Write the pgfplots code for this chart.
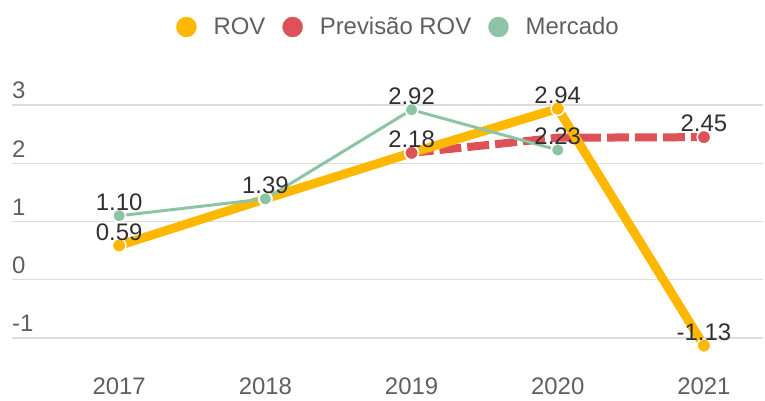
\documentclass[border=0pt]{standalone}
\usepackage{fontspec}
\setmainfont{Liberation Sans}
\usepackage{pgfplots}
\pgfplotsset{compat=1.18}
\definecolor{cROV}{HTML}{FFB800}
\definecolor{cPrev}{HTML}{DC5257}
\definecolor{cMerc}{HTML}{8DC4A6}
\definecolor{cGrid}{HTML}{DDDDDD}
\definecolor{cTick}{HTML}{5F5F5F}
\definecolor{cLab}{HTML}{303030}
\begin{document}
\begin{tikzpicture}
\useasboundingbox (0,0) rectangle (765bp,401bp);
\begin{axis}[
  at={(12bp,28bp)}, anchor=south west,
  scale only axis, width=751bp, height=297bp,
  xmin=2016.267, xmax=2021.404, ymin=-1.6, ymax=3.5,
  axis line style={draw=none},
  xtick={2017,2018,2019,2020,2021}, ytick={-1,0,1,2,3},
  major tick length=0pt,
  ymajorgrids, grid style={cGrid, line width=1.3bp},
  /pgf/number format/1000 sep={},
  /pgf/number format/assume math mode=true,
  tick label style={font=\fontsize{24}{28}\selectfont, text=cTick},
  yticklabel style={anchor=south west, inner sep=0pt, yshift=6bp},
  xticklabel style={anchor=north, inner sep=0pt, yshift=-5bp},
  clip=false,
  legend columns=3,
  legend style={at={(0.5146,1.165)}, anchor=center, draw=none, fill=none,
    font=\fontsize{24}{28}\selectfont, text=cTick,
    /tikz/every odd column/.append style={column sep=15bp},
    /tikz/every even column/.append style={column sep=15bp}},
  legend image code/.code={\fill (10bp,0bp) circle (10bp);},
  nodes near coords style={anchor=south, inner sep=0pt, yshift=5bp,
    font=\fontsize{24}{28}\selectfont, text=cLab},
]
\addlegendimage{color=cROV}
\addlegendentry{ROV}
\addlegendimage{color=cPrev}
\addlegendentry{Previsão ROV}
\addlegendimage{color=cMerc}
\addlegendentry{Mercado}

% lines
\addplot[cPrev, line width=8bp, dash pattern=on 22bp off 6bp, forget plot]
  coordinates {(2019,2.18) (2020,2.44) (2021,2.45)};
\addplot[cROV, line width=9bp, line join=round, forget plot]
  coordinates {(2017,0.59) (2018,1.39) (2019,2.18) (2020,2.94) (2021,-1.13)};
\addplot[cMerc, line width=3bp, forget plot]
  coordinates {(2017,1.10) (2018,1.39) (2019,2.92) (2020,2.23)};

% markers
\addplot[only marks, mark=*, mark size=6.8bp, mark options={fill=cROV, draw=white, line width=1.5bp}, forget plot]
  coordinates {(2017,0.59) (2018,1.39) (2019,2.18) (2020,2.94) (2021,-1.13)};
\addplot[only marks, mark=*, mark size=6.8bp, mark options={fill=cPrev, draw=white, line width=1.5bp}, forget plot]
  coordinates {(2019,2.18) (2021,2.45)};
\addplot[only marks, mark=*, mark size=6.3bp, mark options={fill=cMerc, draw=white, line width=1.5bp}, forget plot]
  coordinates {(2017,1.10) (2018,1.39) (2019,2.92) (2020,2.23)};

% labels
\addplot[draw=none, mark=none, forget plot, nodes near coords, point meta=explicit symbolic]
  coordinates {(2017,0.59) [0.59] (2019,2.18) [2.18] (2020,2.94) [2.94] (2021,-1.13) [-1.13]};
\addplot[draw=none, mark=none, forget plot, nodes near coords, point meta=explicit symbolic]
  coordinates {(2021,2.45) [2.45]};
\addplot[draw=none, mark=none, forget plot, nodes near coords, point meta=explicit symbolic]
  coordinates {(2017,1.10) [1.10] (2018,1.39) [1.39] (2019,2.92) [2.92] (2020,2.23) [2.23]};
\end{axis}
\end{tikzpicture}
\end{document}
